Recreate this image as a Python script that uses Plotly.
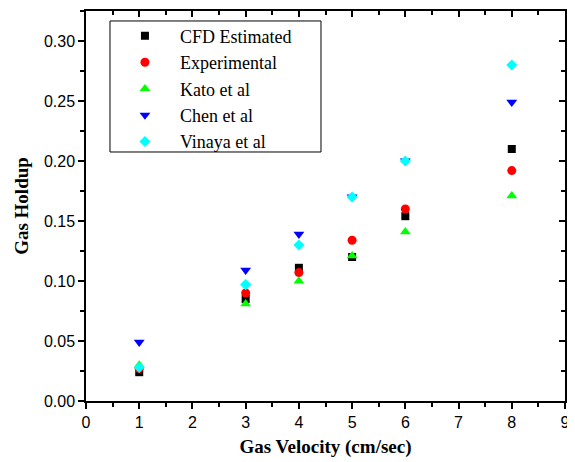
import plotly.graph_objects as go

velocity = [1, 3, 4, 5, 6, 8]
cfd_estimated = [0.024, 0.085, 0.111, 0.120, 0.154, 0.210]
experimental = [0.027, 0.090, 0.107, 0.134, 0.160, 0.192]
kato = [0.030, 0.081, 0.100, 0.121, 0.141, 0.171]
chen = [0.049, 0.109, 0.139, 0.170, 0.200, 0.249]
vinaya = [0.028, 0.097, 0.130, 0.170, 0.200, 0.280]

x_ticks = list(range(0, 10))
y_ticks = [0.00, 0.05, 0.10, 0.15, 0.20, 0.25, 0.30]

series = [
    ("CFD Estimated", cfd_estimated, "square", "black", 8),
    ("Experimental", experimental, "circle", "red", 9),
    ("Kato et al", kato, "triangle-up", "#00ff00", 9.5),
    ("Chen et al", chen, "triangle-down", "blue", 9.5),
    ("Vinaya et al", vinaya, "diamond", "cyan", 8.5),
]

fig = go.Figure()
for name, vals, sym, col, sz in series:
    fig.add_trace(go.Scatter(
        x=velocity, y=vals, mode="markers", name=name,
        marker=dict(symbol=sym, color=col, size=sz, line=dict(width=0)),
    ))
fig.add_trace(go.Scatter(x=[], y=[], xaxis="x2", yaxis="y2", showlegend=False))

tick_font = dict(family="Liberation Sans, Arial", size=16, color="black")
title_font = dict(family="Liberation Serif, Times New Roman", size=19, color="black")

common = dict(tickcolor="black", tickwidth=1.5, ticklen=6, showline=True,
              linecolor="black", linewidth=1.5, showgrid=False, zeroline=False,
              automargin=False)

# page body has an 8px margin, so the figure is sized to fit the window after it
fig.update_layout(
    width=567, height=454,
    margin=dict(l=78, r=10, t=3, b=61),
    paper_bgcolor="white", plot_bgcolor="white",
    showlegend=True,
    legend=dict(
        x=0.05, y=0.983, xanchor="left", yanchor="top",
        borderwidth=0, bgcolor="rgba(0,0,0,0)",
        font=dict(family="Liberation Serif, Times New Roman", size=18, color="black"),
        itemwidth=60,
    ),
    shapes=[dict(
        type="rect", xref="paper", yref="paper",
        x0=0.0501, x1=0.4906, y0=0.6385, y1=0.9744,
        line=dict(color="black", width=1), fillcolor="white", layer="above",
    )],
    xaxis=dict(
        range=[0, 9], tickvals=x_ticks, ticktext=[str(v) for v in x_ticks],
        ticks="outside",
        minor=dict(ticks="outside", dtick=0.5, tick0=0, ticklen=4, tickwidth=1.5, tickcolor="black"),
        tickfont=tick_font,
        title=dict(text="<b>Gas Velocity (cm/sec)</b>", font=title_font, standoff=10),
        **common,
    ),
    yaxis=dict(
        range=[0, 0.325], tickvals=y_ticks, ticktext=[f"{v:.2f}" for v in y_ticks],
        ticks="outside",
        minor=dict(ticks="outside", dtick=0.025, tick0=0, ticklen=4, tickwidth=1.5, tickcolor="black"),
        tickfont=tick_font,
        title=dict(text="<b>Gas Holdup</b>", font=title_font, standoff=10),
        **common,
    ),
    xaxis2=dict(
        overlaying="x", side="top", matches="x", range=[0, 9], tickvals=x_ticks,
        ticks="inside",
        minor=dict(ticks="inside", dtick=0.5, tick0=0, ticklen=4, tickwidth=1.5, tickcolor="black"),
        showticklabels=False, **common,
    ),
    yaxis2=dict(
        overlaying="y", side="right", matches="y", range=[0, 0.325], tickvals=y_ticks,
        ticks="inside",
        minor=dict(ticks="inside", dtick=0.025, tick0=0, ticklen=4, tickwidth=1.5, tickcolor="black"),
        showticklabels=False, **common,
    ),
)

fig.write_html("out.html")
